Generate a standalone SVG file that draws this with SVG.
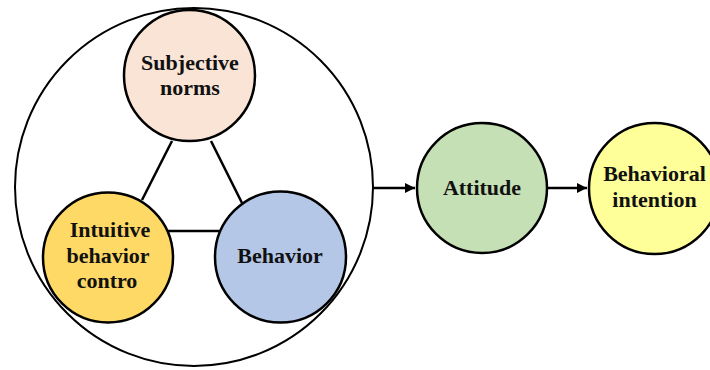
<svg xmlns="http://www.w3.org/2000/svg" width="710" height="370" viewBox="0 0 710 370">
  <style>
    .node { stroke: #000; stroke-width: 2.5; }
    .lbl { font-family: "Liberation Serif", "Times New Roman", serif; font-weight: bold; font-size: 22px; fill: #111; text-anchor: middle; }
    .link { stroke: #000; stroke-width: 2.5; fill: none; }
  </style>
  <defs>
    <marker id="arrow" viewBox="0 0 10 10" refX="10" refY="5" markerWidth="4" markerHeight="4" markerUnits="strokeWidth" orient="auto">
      <path d="M0,0 L10,5 L0,10 Z" fill="#000"/>
    </marker>
  </defs>
  <rect width="710" height="370" fill="#fff"/>

  <!-- Enclosing circle around the three factors -->
  <g id="group">
    <circle cx="194" cy="187" r="179" fill="none" stroke="#000" stroke-width="2"/>
  </g>

  <!-- Connectors -->
  <g id="connectors">
    <line class="link" x1="172" y1="141" x2="142" y2="200"/>
    <line class="link" x1="211" y1="141" x2="242" y2="203"/>
    <line class="link" x1="168" y1="231" x2="220" y2="231"/>
    <line class="link" x1="373" y1="188" x2="415" y2="188" marker-end="url(#arrow)"/>
    <line class="link" x1="547" y1="188" x2="587" y2="188" marker-end="url(#arrow)"/>
  </g>

  <g id="subjective-norms">
    <circle class="node" cx="189.5" cy="75.5" r="65.5" fill="#FAE4D6"/>
    <text class="lbl" x="190" y="70">Subjective</text>
    <text class="lbl" x="190" y="95">norms</text>
  </g>

  <g id="intuitive-behavior-control">
    <circle class="node" cx="108" cy="257.5" r="65" fill="#FFD966"/>
    <text class="lbl" x="110" y="237">Intuitive</text>
    <text class="lbl" x="108" y="263">behavior</text>
    <text class="lbl" x="107" y="288">contro</text>
  </g>

  <g id="behavior">
    <circle class="node" cx="280.5" cy="257" r="65.5" fill="#B4C7E7"/>
    <text class="lbl" x="280" y="263">Behavior</text>
  </g>

  <g id="attitude">
    <circle class="node" cx="482" cy="188" r="65" fill="#C5E0B4"/>
    <text class="lbl" x="482" y="195">Attitude</text>
  </g>

  <g id="behavioral-intention">
    <circle class="node" cx="654.5" cy="188.5" r="65.5" fill="#FFFF99"/>
    <text class="lbl" x="654.5" y="181">Behavioral</text>
    <text class="lbl" x="654.5" y="207">intention</text>
  </g>
</svg>
